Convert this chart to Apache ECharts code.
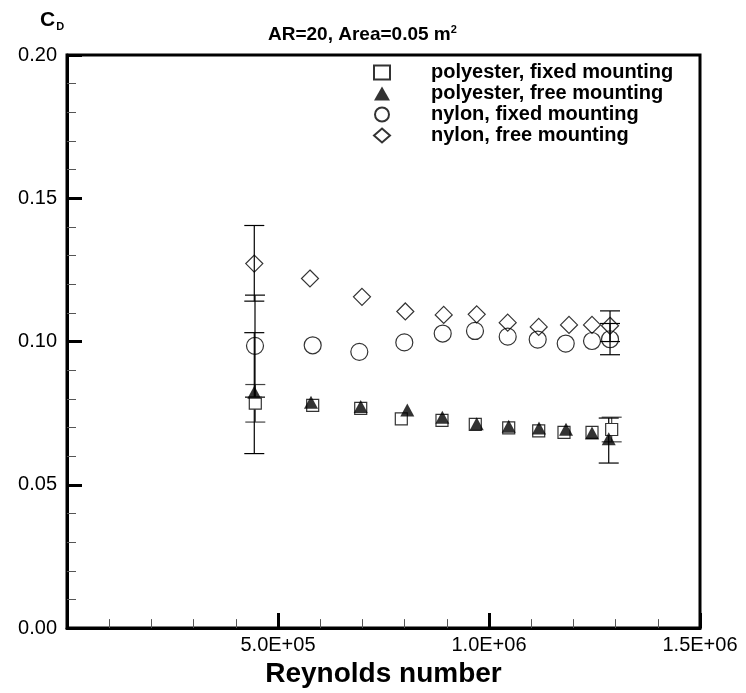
<!DOCTYPE html>
<html>
<head>
<meta charset="utf-8">
<script src="https://cdn.jsdelivr.net/npm/echarts@6/dist/echarts.min.js"></script>
<style>html,body{margin:0;padding:0;background:#fff}#c{width:746px;height:693px}</style>
</head>
<body>
<div id="c"></div>
<script>
// ---- data ----
const seriesNames = ['polyester, fixed mounting', 'polyester, free mounting', 'nylon, fixed mounting', 'nylon, free mounting'];
const yTicks = ['0.00', '0.05', '0.10', '0.15', '0.20'];
const xTicks = ['5.0E+05', '1.0E+06', '1.5E+06'];

const polyFixedRe = [446200, 582200, 696000, 792200, 888600, 967500, 1046700, 1117800, 1177700, 1244100, 1290700];
const polyFixedCd = [0.0785, 0.0777, 0.0767, 0.0730, 0.0725, 0.0711, 0.0699, 0.0688, 0.0683, 0.0683, 0.0693];

const polyFreeRe = [443800, 578200, 696000, 806400, 889400, 970900, 1046700, 1118500, 1182500, 1244100, 1283700];
const polyFreeCd = [0.0823, 0.0788, 0.0773, 0.0761, 0.0736, 0.0713, 0.0704, 0.0698, 0.0694, 0.0681, 0.0661];

const nylonFixedRe = [445500, 582200, 692700, 799300, 890300, 966800, 1044300, 1115400, 1181800, 1244100, 1286800];
const nylonFixedCd = [0.0985, 0.0987, 0.0964, 0.0997, 0.1028, 0.1037, 0.1017, 0.1007, 0.0993, 0.1002, 0.1008];

const nylonFreeRe = [443800, 575800, 699000, 801700, 892700, 970900, 1044300, 1117800, 1189600, 1244100, 1286800];
const nylonFreeCd = [0.1272, 0.1220, 0.1156, 0.1105, 0.1093, 0.1095, 0.1066, 0.1051, 0.1058, 0.1058, 0.1055];

// error bars: [Re, low, high]
const polyFixedErr = [[446200, 0.0719, 0.0850], [1290700, 0.0650, 0.0736]];
const polyFreeErr = [[443800, 0.0609, 0.1031], [1283700, 0.0576, 0.0733]];
const nylonFixedErr = [[445500, 0.0806, 0.1162], [1286800, 0.0954, 0.1063]];
const nylonFreeErr = [[443800, 0.1141, 0.1405], [1286800, 0.1000, 0.1107]];

// ---- build ----
const zip = (a, b) => a.map((v, i) => [v, b[i]]);
function fmtX(v) {
  if (v === 0) return '';
  const e = Math.floor(Math.log10(v) + 1e-9);
  const m = v / Math.pow(10, e);
  const s = m.toFixed(1) + 'E+' + String(e).padStart(2, '0');
  return xTicks.includes(s) ? s : '';
}
function fmtY(v) {
  const s = v.toFixed(2);
  return yTicks.includes(s) ? s : '';
}
function errSeries(data, color) {
  return {
    type: 'custom',
    name: 'err',
    data: data,
    encode: { x: 0, y: [1, 2] },
    silent: true,
    z: 1,
    renderItem: function (params, api) {
      const x = api.value(0), lo = api.value(1), hi = api.value(2);
      const a = api.coord([x, hi]), b = api.coord([x, lo]);
      const w = 10;
      const st = { stroke: color, lineWidth: 1.2 };
      return {
        type: 'group',
        children: [
          { type: 'line', shape: { x1: a[0], y1: a[1], x2: b[0], y2: b[1] }, style: st },
          { type: 'line', shape: { x1: a[0] - w, y1: a[1], x2: a[0] + w, y2: a[1] }, style: st },
          { type: 'line', shape: { x1: b[0] - w, y1: b[1], x2: b[0] + w, y2: b[1] }, style: st }
        ]
      };
    }
  };
}

const chart = echarts.init(document.getElementById('c'), null, { renderer: 'canvas' });
const font = 'Liberation Sans, Arial, Helvetica, sans-serif';
chart.setOption({
  animation: false,
  backgroundColor: '#fff',
  textStyle: { fontFamily: font },
  title: {
    text: 'AR=20, Area=0.05 m{sup|2}',
    left: 263, top: 19,
    textStyle: {
      fontFamily: font, fontSize: 19, fontWeight: 'bold', color: '#000',
      rich: { sup: { fontSize: 11, fontWeight: 'bold', fontFamily: font, verticalAlign: 'top', padding: [0, 0, 10, 0] } }
    }
  },
  graphic: [{
    type: 'text', left: 40, top: 10,
    style: {
      text: '{c|C}{d|D}',
      rich: {
        c: { fontSize: 21, fontWeight: 'bold', fontFamily: font, fill: '#000' },
        d: { fontSize: 11, fontWeight: 'bold', fontFamily: font, fill: '#000', padding: [12, 0, 0, 1] }
      }
    }
  }],
  legend: {
    data: seriesNames,
    orient: 'vertical',
    left: 368, top: 57,
    itemWidth: 16, itemHeight: 14, itemGap: 0,
    textStyle: { fontFamily: font, fontSize: 20, lineHeight: 21, fontWeight: 'bold', color: '#000', padding: [0, 0, 0, 36] },
    selectedMode: false
  },
  grid: {
    left: 67, top: 55, right: 46, bottom: 61,
    show: true, borderColor: '#000', borderWidth: 3, backgroundColor: 'transparent'
  },
  xAxis: {
    type: 'value', min: 0, max: 1500000, interval: 500000,
    name: 'Reynolds number', nameLocation: 'middle', nameGap: 26,
    nameTextStyle: { fontFamily: font, fontSize: 28, fontWeight: 'bold', color: '#000' },
    axisLine: { lineStyle: { color: '#000', width: 3 } },
    axisTick: { inside: true, length: 15, lineStyle: { color: '#000', width: 3 } },
    minorTick: { show: true, splitNumber: 5, length: 9, lineStyle: { color: '#555', width: 1 } },
    splitLine: { show: false },
    axisLabel: { formatter: fmtX, fontSize: 20, color: '#000', margin: 7, fontFamily: font }
  },
  yAxis: {
    type: 'value', min: 0, max: 0.2, interval: 0.05,
    axisLine: { lineStyle: { color: '#000', width: 3 } },
    axisTick: { inside: true, length: 15, lineStyle: { color: '#000', width: 3 } },
    minorTick: { show: true, splitNumber: 5, length: 9, lineStyle: { color: '#555', width: 1 } },
    splitLine: { show: false },
    axisLabel: { formatter: fmtY, fontSize: 20, color: '#000', margin: 10, fontFamily: font }
  },
  series: [
    errSeries(polyFixedErr, '#444'),
    errSeries(polyFreeErr, '#000'),
    errSeries(nylonFixedErr, '#000'),
    errSeries(nylonFreeErr, '#000'),
    {
      name: seriesNames[0], type: 'scatter', z: 2,
      data: zip(polyFixedRe, polyFixedCd),
      symbol: 'rect', symbolSize: 12,
      itemStyle: { color: '#fff', borderColor: '#333', borderWidth: 1.2, opacity: 1 }
    },
    {
      name: seriesNames[1], type: 'scatter', z: 3,
      data: zip(polyFreeRe, polyFreeCd),
      symbol: 'triangle', symbolSize: [14, 13],
      itemStyle: { color: '#000', borderColor: '#000', borderWidth: 0 }
    },
    {
      name: seriesNames[2], type: 'scatter', z: 4,
      data: zip(nylonFixedRe, nylonFixedCd),
      symbol: 'circle', symbolSize: 17,
      itemStyle: { color: 'transparent', borderColor: '#000', borderWidth: 1.2 }
    },
    {
      name: seriesNames[3], type: 'scatter', z: 5,
      data: zip(nylonFreeRe, nylonFreeCd),
      symbol: 'diamond', symbolSize: 17,
      itemStyle: { color: 'transparent', borderColor: '#000', borderWidth: 1.2 }
    }
  ]
});
</script>
</body>
</html>
